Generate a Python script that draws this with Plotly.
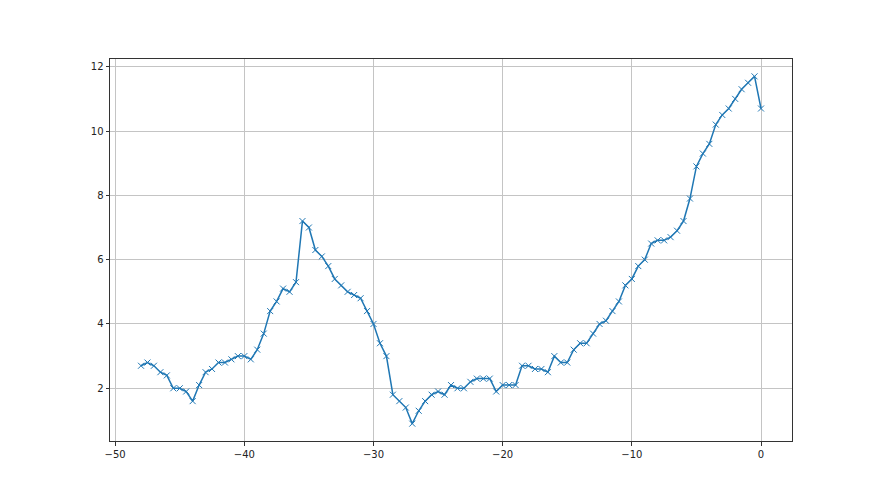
import plotly.graph_objects as go

x_vals = [-48.0, -47.5, -47.0, -46.5, -46.0, -45.5, -45.0, -44.5, -44.0, -43.5,
          -43.0, -42.5, -42.0, -41.5, -41.0, -40.5, -40.0, -39.5, -39.0, -38.5,
          -38.0, -37.5, -37.0, -36.5, -36.0, -35.5, -35.0, -34.5, -34.0, -33.5,
          -33.0, -32.5, -32.0, -31.5, -31.0, -30.5, -30.0, -29.5, -29.0, -28.5,
          -28.0, -27.5, -27.0, -26.5, -26.0, -25.5, -25.0, -24.5, -24.0, -23.5,
          -23.0, -22.5, -22.0, -21.5, -21.0, -20.5, -20.0, -19.5, -19.0, -18.5,
          -18.0, -17.5, -17.0, -16.5, -16.0, -15.5, -15.0, -14.5, -14.0, -13.5,
          -13.0, -12.5, -12.0, -11.5, -11.0, -10.5, -10.0, -9.5, -9.0, -8.5,
          -8.0, -7.5, -7.0, -6.5, -6.0, -5.5, -5.0, -4.5, -4.0, -3.5,
          -3.0, -2.5, -2.0, -1.5, -1.0, -0.5, 0.0]

y_vals = [2.7, 2.8, 2.7, 2.5, 2.4, 2.0, 2.0, 1.9, 1.6, 2.1,
          2.5, 2.6, 2.8, 2.8, 2.9, 3.0, 3.0, 2.9, 3.2, 3.7,
          4.4, 4.7, 5.1, 5.0, 5.3, 7.2, 7.0, 6.3, 6.1, 5.8,
          5.4, 5.2, 5.0, 4.9, 4.8, 4.4, 4.0, 3.4, 3.0, 1.8,
          1.6, 1.4, 0.9, 1.3, 1.6, 1.8, 1.9, 1.8, 2.1, 2.0,
          2.0, 2.2, 2.3, 2.3, 2.3, 1.9, 2.1, 2.1, 2.1, 2.7,
          2.7, 2.6, 2.6, 2.5, 3.0, 2.8, 2.8, 3.2, 3.4, 3.4,
          3.7, 4.0, 4.1, 4.4, 4.7, 5.2, 5.4, 5.8, 6.0, 6.5,
          6.6, 6.6, 6.7, 6.9, 7.2, 7.9, 8.9, 9.3, 9.6, 10.2,
          10.5, 10.7, 11.0, 11.3, 11.5, 11.7, 10.7]

x_ticks = [-50, -40, -30, -20, -10, 0]
y_ticks = [2, 4, 6, 8, 10, 12]

fig = go.Figure()
fig.add_trace(go.Scatter(
    x=x_vals, y=y_vals, mode="lines+markers",
    line=dict(color="#1f77b4", width=1.5),
    marker=dict(symbol="x-thin", size=6, color="#1f77b4",
                line=dict(color="#1f77b4", width=1)),
    showlegend=False,
))

axis_common = dict(
    showgrid=True, gridcolor="#c4c4c4", gridwidth=0.8,
    zeroline=False, showline=True, linecolor="#333333", linewidth=1,
    mirror=True, ticks="outside", ticklen=3.5, tickwidth=0.8, tickcolor="#333333",
    tickfont=dict(family="DejaVu Sans", size=10, color="#222222"),
)

xmin, xmax = min(x_vals), max(x_vals)
ymin, ymax = min(y_vals), max(y_vals)
xm = 0.05 * (xmax - xmin)
ym = 0.05 * (ymax - ymin)

fig.update_xaxes(range=[xmin - xm, xmax + xm], tickvals=x_ticks, **axis_common)
fig.update_yaxes(range=[ymin - ym, ymax + ym], tickvals=y_ticks, **axis_common)

fig.update_layout(
    width=880, height=495,
    margin=dict(l=102, r=96, t=51, b=62),
    plot_bgcolor="white", paper_bgcolor="white",
    font=dict(family="DejaVu Sans", size=10, color="black"),
)

fig.write_html("out.html")
